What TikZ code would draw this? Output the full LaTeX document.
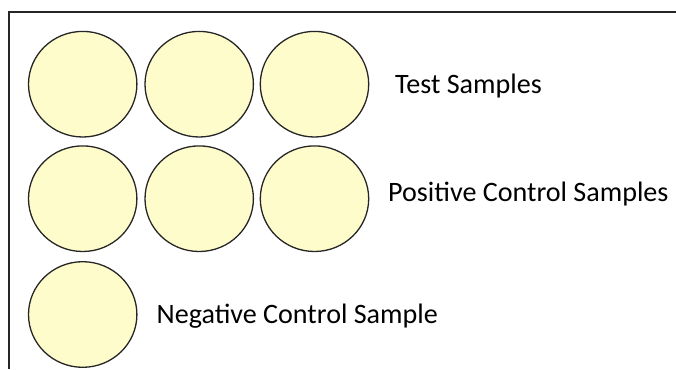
\documentclass[tikz,border=0pt]{standalone}
\usepackage{fontspec}
\setmainfont{Carlito}
\begin{document}
\begin{tikzpicture}[x=1pt,y=-1pt,
  sample/.style={draw=black!85,line width=1.3pt,fill=yellow!20},
  caption/.style={anchor=base west,inner sep=0pt,font=\fontsize{28.1}{33}\selectfont},
  frameline/.style={line width=1.8pt,black!85}]
\useasboundingbox (0,0) rectangle (676,369);
% open frame: top edge and left edge
\coordinate (tl) at (9,12);
\coordinate (tr) at (676,12);
\coordinate (bl) at (9,369);
\draw[frameline] (tr) -- (tl) -- (bl);
% sample wells
\foreach \name/\cx/\cy in {t1/82.7/84.2, t2/199.2/84.2, t3/314.5/84.2,
                          p1/82.7/198.7, p2/199.2/198.7, p3/314.5/198.7,
                          n1/82.7/314.5}{
  \draw[sample] (\cx,\cy) ellipse [x radius=54.2, y radius=52.8];
  \coordinate (\name) at (\cx,\cy);
}
% row labels
\node[caption] (lt) at (395,93) {Test Samples};
\node[caption] (lp) at (388,201.5) {Positive Control Samples};
\node[caption] (ln) at (156.5,323.3) {Negative Control Sample};
\end{tikzpicture}
\end{document}
